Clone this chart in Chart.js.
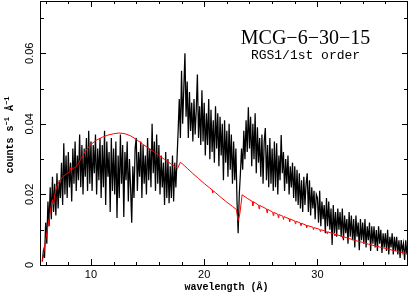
<!DOCTYPE html>
<html>
<head>
<meta charset="utf-8">
<script src="https://cdn.jsdelivr.net/npm/chart.js@4"></script>
<style>
  html, body { margin: 0; padding: 0; background: #fff; }
  canvas { display: block; }
</style>
</head>
<body>
<canvas id="espectro" width="415" height="295"></canvas>
<script>
// RGS1 spectrum, bins of 0.1 A starting at 5.7 A
const wlStart = 5.7;
const wlStep = 0.1;
const counts = [
  .001, .004, .002,
  .012, .006, .018, .011, .022, .013, .025, .015, .023, .014,
  .026, .016, .024, .019, .029, .017, .0345, .020, .031, .019,
  .032, .022, .029, .018, .033, .023, .035, .021, .031, .024,
  .037, .022, .034, .020, .033, .025, .036, .021, .038, .023,
  .035, .021, .034, .026, .037, .020, .033, .024, .036, .019,
  .034, .022, .038, .017, .035, .025, .032, .015, .036, .021,
  .033, .020, .035, .0133, .031, .019, .037, .023, .034, .0136,
  .032, .024, .035, .018, .030, .022, .012, .028, .019, .033,
  .036, .021, .032, .025, .035, .019, .034, .023, .031, .020,
  .036, .024, .033, .022, .040, .026, .035, .021, .037, .023,
  .034, .020, .031, .022, .029, .017, .032, .019, .030, .0175,
  .028, .019, .031, .018, .029, .022, .030, .038, .047, .036,
  .055, .040, .050, .060, .042, .052, .036, .049, .038, .046,
  .035, .047, .037, .044, .054, .036, .045, .034, .0495, .035,
  .046, .031, .043, .034, .047, .030, .044, .032, .041, .029,
  .045, .033, .043, .028, .042, .031, .040, .024, .041, .029,
  .038, .025, .040, .027, .037, .023, .035, .024, .033, .018,
  .009, .020, .026, .033, .027, .038, .030, .041, .032, .0447,
  .033, .042, .028, .040, .030, .043, .026, .039, .029, .036,
  .025, .037, .023, .035, .0388, .024, .034, .022, .036, .023,
  .033, .021, .035, .022, .0345, .020, .031, .024, .0368, .026,
  .032, .021, .030, .023, .031, .020, .028, .022, .029, .019,
  .028, .018, .027, .017, .026, .016, .024, .015, .025, .017,
  .023, .026, .015, .024, .014, .022, .016, .021, .013, .020,
  .019, .012, .021, .011, .018, .013, .017, .009, .019, .011,
  .018, .010, .016, .0057, .017, .009, .015, .008, .016, .010,
  .015, .008, .016, .007, .014, .009, .013, .006, .015, .008,
  .014, .007, .013, .005, .014, .008, .012, .0042, .013, .007,
  .012, .006, .013, .005, .011, .007, .012, .004, .011, .006,
  .011, .005, .0099, .004, .011, .006, .010, .0034, .009, .005,
  .009, .004, .010, .003, .008, .005, .009, .003, .008, .004,
  .008, .003, .007, .002, .0071, .004, .006, .0014, .007, .003
];

// model (red)
const modelWl = [
  5.7, 5.9, 6.2, 6.5, 6.6, 6.7, 6.8, 7.0, 7.5, 7.9,
  8.1, 8.2, 8.5, 8.8, 9.1, 9.5, 10.0, 10.5, 11.0, 11.5,
  12.0, 12.5, 13.0, 13.5, 14.0, 14.5, 15.0, 15.5, 16.0, 16.5,
  17.0, 17.4, 17.65, 17.9, 18.1, 18.5, 19.0, 19.5, 20.0, 20.5,
  20.7, 20.75, 20.85, 21.0, 21.5, 22.0, 22.5, 22.85, 23.0, 23.15,
  23.35, 23.8,
  24.25, 24.3, 24.35, 24.8, 24.85, 24.9, 25.5, 25.55, 25.6,
  26.05, 26.1, 26.15, 26.5, 26.55, 26.6, 26.95, 27.0, 27.05,
  27.5, 27.55, 27.6, 28.0, 28.05, 28.1, 28.5, 28.55, 28.6,
  29.0, 29.05, 29.1, 29.6, 29.65, 29.7, 30.2, 30.25, 30.3,
  30.8, 30.85, 30.9, 31.5, 31.55, 31.6, 32.2, 32.25, 32.3,
  33.0, 33.5, 34.0, 34.5, 35.0, 35.5, 36.0, 36.5, 37.0, 37.5, 37.9
];
const modelCounts = [
  .001, .005, .011, .017, .0185, .0172, .0198, .0225, .025, .026,
  .0262, .0275, .0274, .0282, .0300, .0322, .0342, .0354, .0362, .0368,
  .0372, .0374, .0372, .0366, .0356, .0344, .0333, .0322, .0311, .0299,
  .0288, .0279, .0274, .0291, .0286, .0274, .0259, .0245, .0231, .0218,
  .0213, .0205, .0209, .0205, .0191, .0178, .0166, .0157, .0126, .0145,
  .0199, .0189,
  .0180, .0168, .0179, .0170, .0159, .0169, .0159, .0148, .0158,
  .0150, .0140, .0149, .0144, .0134, .0143, .0138, .0129, .0137,
  .0131, .0123, .0130, .0125, .0117, .0124, .0119, .0112, .0118,
  .0113, .0106, .0112, .0107, .0100, .0106, .0101, .0095, .0100,
  .0095, .0089, .0094, .0088, .0083, .0087, .0081, .0076, .0080,
  .0073, .0068, .0064, .0059, .0055, .0051, .0047, .0043, .0039, .0035, .0032
];

const xTicksMajor = [10, 20, 30];
const xTicksMinor = [6, 8, 12, 14, 16, 18, 22, 24, 26, 28, 32, 34, 36];
const yTicksMajor = [0, 0.02, 0.04, 0.06];
const yTickLabels = ["0", "0.02", "0.04", "0.06"];
const yTicksMinor = [0.01, 0.03, 0.05, 0.07];
const titulo = "MCG\u22126\u221230\u221215";
const subtitulo = "RGS1/1st order";
const ejeX = "wavelength (\u00c5)";

const puntos = counts.map((c, i) => ({ x: +(wlStart + i * wlStep).toFixed(2), y: c }));
const modelo = modelWl.map((w, i) => ({ x: w, y: modelCounts[i] }));

// frame, inward ticks, labels
const marcos = {
  id: "marcos",
  afterDraw(chart) {
    const { ctx, chartArea: a, scales: { x, y } } = chart;
    ctx.save();
    ctx.strokeStyle = "#000";
    ctx.fillStyle = "#000";
    ctx.lineWidth = 1;
    ctx.strokeRect(a.left + 0.5, a.top + 0.5, a.right - a.left - 1, a.bottom - a.top);

    const tickX = (v, len) => {
      const px = Math.round(x.getPixelForValue(v)) + 0.5;
      ctx.beginPath();
      ctx.moveTo(px, a.bottom); ctx.lineTo(px, a.bottom - len);
      ctx.moveTo(px, a.top); ctx.lineTo(px, a.top + len);
      ctx.stroke();
    };
    const tickY = (v, len) => {
      const py = Math.round(y.getPixelForValue(v)) + 0.5;
      ctx.beginPath();
      ctx.moveTo(a.left, py); ctx.lineTo(a.left + len, py);
      ctx.moveTo(a.right, py); ctx.lineTo(a.right - len, py);
      ctx.stroke();
    };
    xTicksMajor.forEach(v => tickX(v, 6));
    xTicksMinor.forEach(v => tickX(v, 3));
    yTicksMajor.forEach(v => tickY(v, 6));
    yTicksMinor.forEach(v => tickY(v, 4));

    ctx.font = '11px "Liberation Sans"';
    ctx.textAlign = "center";
    ctx.textBaseline = "middle";
    xTicksMajor.forEach(v => ctx.fillText(String(v), x.getPixelForValue(v), 275));
    yTicksMajor.forEach((v, i) => {
      ctx.save();
      ctx.translate(30, y.getPixelForValue(v));
      ctx.rotate(-Math.PI / 2);
      ctx.fillText(yTickLabels[i], 0, 0);
      ctx.restore();
    });

    // titles inside the frame
    ctx.textBaseline = "alphabetic";
    ctx.font = '20px "Liberation Serif"';
    ctx.fillText(titulo, 305.5, 43.5);
    ctx.font = '13px "Liberation Mono"';
    ctx.fillText(subtitulo, 305.5, 59);

    // axis titles
    ctx.font = 'bold 10px "Liberation Mono"';
    ctx.fillText(ejeX, 226.5, 290);

    const partes = [["counts s", false], ["\u22121", true], [" \u00c5", false], ["\u22121", true]];
    const fuente = sup => sup ? 'bold 7px "Liberation Mono"' : 'bold 10px "Liberation Mono"';
    let total = 0;
    partes.forEach(([t, s]) => { ctx.font = fuente(s); total += ctx.measureText(t).width; });
    ctx.save();
    ctx.translate(13, 135);
    ctx.rotate(-Math.PI / 2);
    ctx.textAlign = "left";
    let cx = -total / 2;
    partes.forEach(([t, s]) => {
      ctx.font = fuente(s);
      ctx.fillText(t, cx, s ? -4 : 0);
      cx += ctx.measureText(t).width;
    });
    ctx.restore();
    ctx.restore();
  }
};

new Chart(document.getElementById("espectro"), {
  type: "line",
  data: {
    datasets: [
      { label: "model", data: modelo, borderColor: "#ff0000", borderWidth: 1, pointRadius: 0 },
      { label: "RGS1", data: puntos, borderColor: "#000000", borderWidth: 1.25, pointRadius: 0 },
    ],
  },
  options: {
    responsive: false,
    devicePixelRatio: 1,
    animation: false,
    layout: { padding: { left: 40, right: 7, top: 1, bottom: 30 } },
    plugins: { legend: { display: false }, tooltip: { enabled: false } },
    scales: {
      x: { type: "linear", min: 5.5, max: 38, display: false },
      y: { min: 0, max: 0.0748, display: false },
    },
  },
  plugins: [marcos],
});
</script>
</body>
</html>
